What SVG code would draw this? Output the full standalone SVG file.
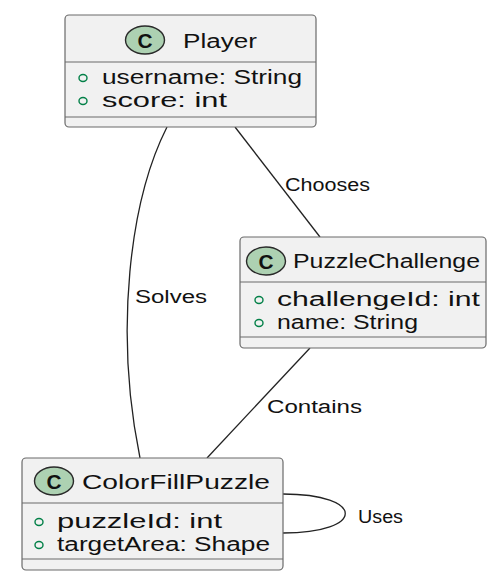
<svg xmlns="http://www.w3.org/2000/svg" width="487" height="573" viewBox="0 0 487 573">
<style>
.box{fill:#F1F1F1;stroke:#6a6a6a;stroke-width:1.2}
.sep{stroke:#6a6a6a;stroke-width:1.2}
.ci{fill:#ADD1B2;stroke:#2a2a2a;stroke-width:1.4}
.cl{font-family:"Liberation Sans",Arial,sans-serif;font-weight:bold;font-size:20px;fill:#111}
.t{font-family:"Liberation Sans",Arial,sans-serif;font-size:19.5px;fill:#111}
.m{fill:none;stroke:#038048;stroke-width:1.4}
.e{fill:none;stroke:#222;stroke-width:1.3}
.lb{font-family:"Liberation Sans",Arial,sans-serif;font-size:18px;fill:#111}
</style>
<g id="connectors">
<path class="e" d="M167,127 C130,200 114,330 140,458"/>
<line class="e" x1="235" y1="127" x2="320" y2="237"/>
<line class="e" x1="310" y1="348" x2="207" y2="458"/>
<path class="e" d="M283,494 C366,494 366,533 283,533"/>
<text class="lb" x="135" y="303" textLength="72" lengthAdjust="spacingAndGlyphs">Solves</text>
<text class="lb" x="285" y="191" textLength="85" lengthAdjust="spacingAndGlyphs">Chooses</text>
<text class="lb" x="267" y="413" textLength="95" lengthAdjust="spacingAndGlyphs">Contains</text>
<text class="lb" x="358" y="523" textLength="45" lengthAdjust="spacingAndGlyphs">Uses</text>
</g>
<g id="Player">
<rect class="box" x="65" y="15" width="251" height="112" rx="4"/>
<line class="sep" x1="65" y1="62" x2="316" y2="62"/>
<line class="sep" x1="65" y1="117" x2="316" y2="117"/>
<ellipse class="ci" cx="145" cy="40" rx="19.5" ry="14"/>
<text class="cl" x="145" y="47.5" text-anchor="middle" textLength="15" lengthAdjust="spacingAndGlyphs">C</text>
<text class="t" x="183" y="48" textLength="74" lengthAdjust="spacingAndGlyphs">Player</text>
<ellipse class="m" cx="83" cy="78" rx="4" ry="3.5"/>
<text class="t" x="102" y="84" textLength="200" lengthAdjust="spacingAndGlyphs">username: String</text>
<ellipse class="m" cx="83" cy="101" rx="4" ry="3.5"/>
<text class="t" x="102" y="107" textLength="125" lengthAdjust="spacingAndGlyphs">score: int</text>
</g>
<g id="PuzzleChallenge">
<rect class="box" x="240" y="237" width="246" height="111" rx="4"/>
<line class="sep" x1="240" y1="282" x2="486" y2="282"/>
<line class="sep" x1="240" y1="337" x2="486" y2="337"/>
<ellipse class="ci" cx="266" cy="261" rx="19.5" ry="14"/>
<text class="cl" x="266" y="268.5" text-anchor="middle" textLength="15" lengthAdjust="spacingAndGlyphs">C</text>
<text class="t" x="293" y="268" textLength="187" lengthAdjust="spacingAndGlyphs">PuzzleChallenge</text>
<ellipse class="m" cx="259" cy="300" rx="4" ry="3.5"/>
<text class="t" x="277" y="306" textLength="203" lengthAdjust="spacingAndGlyphs">challengeId: int</text>
<ellipse class="m" cx="259" cy="323" rx="4" ry="3.5"/>
<text class="t" x="277" y="329" textLength="141" lengthAdjust="spacingAndGlyphs">name: String</text>
</g>
<g id="ColorFillPuzzle">
<rect class="box" x="22" y="458" width="261" height="112" rx="4"/>
<line class="sep" x1="22" y1="503" x2="283" y2="503"/>
<line class="sep" x1="22" y1="559" x2="283" y2="559"/>
<ellipse class="ci" cx="54" cy="481" rx="19.5" ry="14"/>
<text class="cl" x="54" y="488.5" text-anchor="middle" textLength="15" lengthAdjust="spacingAndGlyphs">C</text>
<text class="t" x="82" y="489" textLength="188" lengthAdjust="spacingAndGlyphs">ColorFillPuzzle</text>
<ellipse class="m" cx="39" cy="522" rx="4" ry="3.5"/>
<text class="t" x="57" y="528" textLength="165" lengthAdjust="spacingAndGlyphs">puzzleId: int</text>
<ellipse class="m" cx="39" cy="545" rx="4" ry="3.5"/>
<text class="t" x="57" y="551" textLength="213" lengthAdjust="spacingAndGlyphs">targetArea: Shape</text>
</g>
</svg>
